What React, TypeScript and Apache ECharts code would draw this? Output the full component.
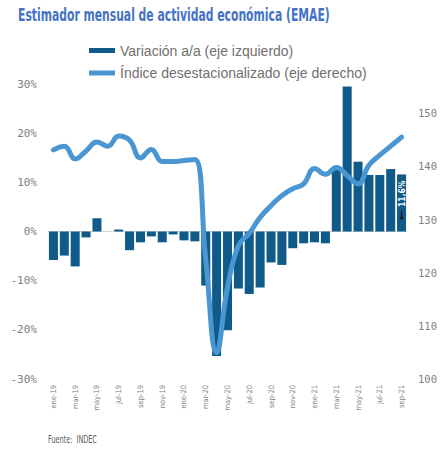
import React, { useEffect, useRef } from "react";
import * as echarts from "echarts";

const months = [
  "ene-19", "feb-19", "mar-19", "abr-19", "may-19", "jun-19", "jul-19", "ago-19", "sep-19", "oct-19", "nov-19", "dic-19",
  "ene-20", "feb-20", "mar-20", "abr-20", "may-20", "jun-20", "jul-20", "ago-20", "sep-20", "oct-20", "nov-20", "dic-20",
  "ene-21", "feb-21", "mar-21", "abr-21", "may-21", "jun-21", "jul-21", "ago-21", "sep-21",
];

// Variación a/a (%), eje izquierdo
const variacion = [
  -5.8, -4.9, -7.1, -1.2, 2.7, 0.0, 0.4, -3.8, -2.2, -1.0, -2.2, -0.6,
  -1.8, -2.0, -11.0, -25.3, -20.1, -11.6, -12.7, -11.4, -6.3, -6.8, -3.4, -2.4,
  -2.2, -2.4, 12.7, 29.5, 14.2, 11.5, 11.5, 12.7, 11.6,
];

// Índice desestacionalizado, eje derecho
const indice = [
  143.1, 143.8, 141.4, 142.9, 144.6, 143.8, 145.7, 144.9, 141.6, 143.2, 140.9, 140.9,
  141.1, 141.3, 122.5, 105.0, 117.2, 125.1, 127.4, 130.4, 132.6, 134.5, 135.8, 136.7,
  139.6, 138.5, 139.8, 138.3, 136.7, 140.2, 142.1, 143.8, 145.5,
];

const title = "Estimador mensual de actividad económica (EMAE)";
const source = "Fuente:  INDEC";
const barName = "Variación a/a (eje izquierdo)";
const lineName = "Índice desestacionalizado (eje derecho)";
const labelledIndex = variacion.length - 1;

function fitScale(text: string, font: string, target: number) {
  const ctx = document.createElement("canvas").getContext("2d");
  if (!ctx) return 1;
  ctx.font = font;
  const w = ctx.measureText(text).width;
  return w > 0 ? target / w : 1;
}

export default function App() {
  const ref = useRef<HTMLDivElement>(null);

  useEffect(() => {
    if (!ref.current) return;
    const chart = echarts.init(ref.current, undefined, { renderer: "svg" });

    const titleFont = 'bold 17.5px "DejaVu Sans"';
    const srcFont = '11px "DejaVu Sans"';
    const titleScale = fitScale(title, titleFont, 312);
    const srcScale = fitScale(source, srcFont, 49);

    const barData = variacion.map((v, i) =>
      i === labelledIndex
        ? {
            value: v,
            label: {
              show: true,
              position: "insideTop",
              rotate: 90,
              align: "right",
              verticalAlign: "middle",
              distance: 6,
              color: "#ffffff",
              fontFamily: '"DejaVu Sans Condensed", "DejaVu Sans"',
              fontWeight: "bold",
              fontSize: 8.5,
              formatter: (p: any) => String(p.value).replace(".", ",") + "%",
            },
          }
        : v
    );

    chart.setOption({
      animation: false,
      backgroundColor: "#ffffff",
      graphic: [
        {
          type: "text",
          x: 18,
          y: 14.5,
          scaleX: titleScale,
          style: {
            text: title,
            fontFamily: "DejaVu Sans",
            fontWeight: "bold",
            fontSize: 17.5,
            fill: "#4472C4",
            verticalAlign: "middle",
            align: "left",
          },
        },
        {
          type: "text",
          x: 48,
          y: 439,
          scaleX: srcScale,
          style: {
            text: source,
            fontFamily: "DejaVu Sans",
            fontSize: 11,
            fill: "#595959",
            verticalAlign: "middle",
            align: "left",
          },
        },
      ],
      legend: {
        orient: "vertical",
        left: 84,
        top: 37.5,
        itemWidth: 26,
        itemHeight: 5,
        itemGap: 6.5,
        textStyle: {
          fontFamily: "Liberation Sans",
          fontSize: 14,
          color: "#707070",
          lineHeight: 16,
        },
        data: [
          { name: barName, icon: "rect" },
          { name: lineName, icon: "rect" },
        ],
      },
      grid: { left: 48, right: 34, top: 84, bottom: 72, containLabel: false },
      xAxis: {
        type: "category",
        data: months,
        boundaryGap: true,
        axisLine: { show: false },
        axisTick: { show: false },
        splitLine: { show: false },
        axisLabel: {
          rotate: 90,
          interval: 1,
          margin: 6,
          fontFamily: '"DejaVu Sans Condensed", "DejaVu Sans"',
          fontSize: 7.5,
          color: "#7f7f7f",
        },
      },
      yAxis: [
        {
          type: "value",
          min: -30,
          max: 30,
          interval: 10,
          splitLine: { show: false },
          axisLine: { show: false },
          axisTick: { show: false },
          axisLabel: {
            formatter: "{value}%",
            margin: 11,
            fontFamily: "DejaVu Sans Mono",
            fontSize: 11,
            color: "#808080",
          },
        },
        {
          type: "value",
          min: 100,
          max: 155.5,
          interval: 10,
          position: "right",
          splitLine: { show: false },
          axisLine: { show: false },
          axisTick: { show: false },
          axisLabel: {
            showMaxLabel: false,
            formatter: (v: number) => (v > 150.5 ? "" : String(v)),
            margin: 11,
            fontFamily: "DejaVu Sans Mono",
            fontSize: 10.5,
            color: "#808080",
          },
        },
      ],
      series: [
        {
          name: barName,
          type: "bar",
          data: barData,
          yAxisIndex: 0,
          barCategoryGap: "17%",
          itemStyle: { color: "#0F5A88" },
          markLine: {
            silent: true,
            symbol: "none",
            label: { show: false },
            lineStyle: { color: "#d4d4d4", width: 1, type: "solid" },
            data: [{ yAxis: 0 }],
            z: 1,
          },
          markPoint: {
            silent: true,
            label: { show: false },
            data: [
              {
                coord: [months[labelledIndex], 3.2],
                symbol: "path://M1.1,0 L1.9,0 L1.9,6 L3,6 L1.5,9 L0,6 L1.1,6 Z",
                symbolSize: [4, 9],
                itemStyle: { color: "#111111" },
              },
            ],
          },
        },
        {
          name: lineName,
          type: "line",
          data: indice,
          yAxisIndex: 1,
          smooth: 0.45,
          symbol: "none",
          lineStyle: { width: 5, color: "#4A96D2", cap: "round", join: "round" },
          itemStyle: { color: "#4A96D2" },
          z: 3,
        },
      ],
    });

    return () => chart.dispose();
  }, []);

  return (
    <div
      ref={ref}
      style={{ position: "fixed", left: 0, top: 0, width: 441, height: 451, background: "#fff" }}
    />
  );
}
